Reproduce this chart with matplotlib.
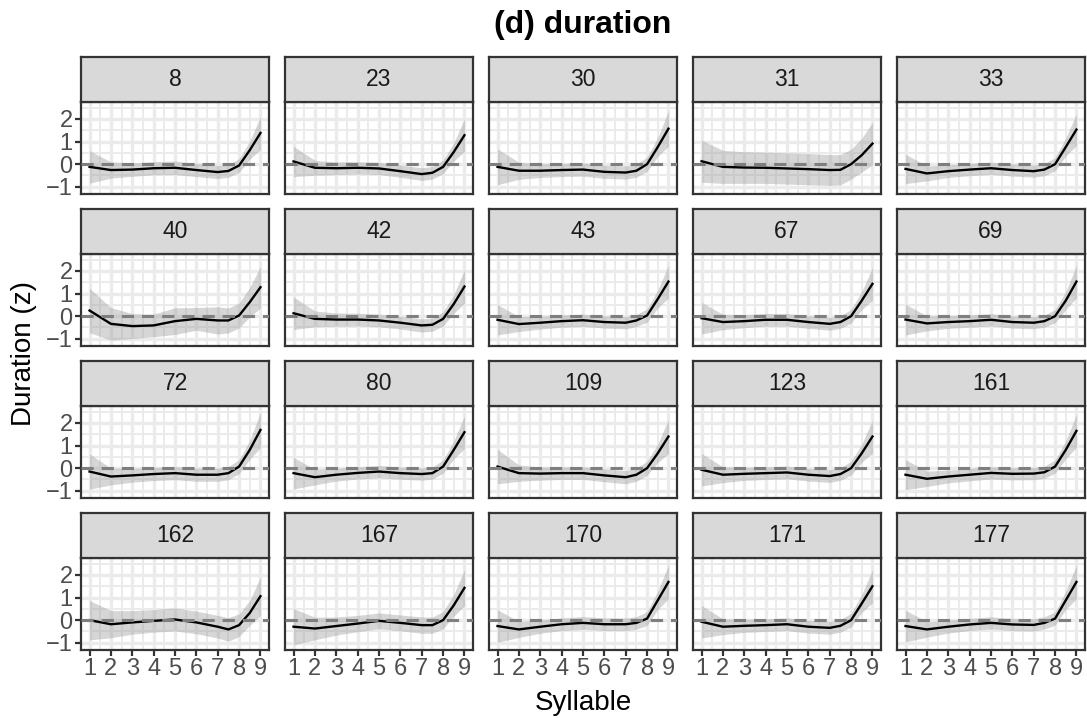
import numpy as np
import matplotlib
matplotlib.use("Agg")
import matplotlib.pyplot as plt

plt.rcParams['font.family'] = ['Liberation Sans', 'DejaVu Sans']

# ---------------- data ----------------
syllable = [1, 2, 3, 4, 5, 6, 7, 7.5, 8, 8.5, 9]
speakers = ["8", "23", "30", "31", "33",
            "40", "42", "43", "67", "69",
            "72", "80", "109", "123", "161",
            "162", "167", "170", "171", "177"]

dur_8 = [-0.12, -0.26, -0.24, -0.18, -0.16, -0.26, -0.35, -0.30, -0.06, 0.62, 1.38]
dur_23 = [0.12, -0.16, -0.18, -0.16, -0.19, -0.31, -0.44, -0.38, -0.12, 0.54, 1.28]
dur_30 = [-0.12, -0.29, -0.29, -0.26, -0.24, -0.34, -0.37, -0.29, 0.00, 0.76, 1.57]
dur_31 = [0.13, -0.12, -0.15, -0.16, -0.19, -0.22, -0.26, -0.25, 0.00, 0.40, 0.91]
dur_33 = [-0.21, -0.41, -0.31, -0.24, -0.18, -0.26, -0.31, -0.24, 0.00, 0.76, 1.53]
dur_40 = [0.25, -0.34, -0.44, -0.41, -0.22, -0.12, -0.19, -0.19, 0.03, 0.62, 1.28]
dur_42 = [0.13, -0.12, -0.15, -0.15, -0.19, -0.29, -0.41, -0.38, -0.12, 0.54, 1.31]
dur_43 = [-0.16, -0.35, -0.29, -0.22, -0.18, -0.26, -0.29, -0.19, 0.03, 0.76, 1.53]
dur_67 = [-0.09, -0.26, -0.22, -0.16, -0.16, -0.26, -0.34, -0.26, 0.00, 0.69, 1.43]
dur_69 = [-0.15, -0.32, -0.26, -0.22, -0.16, -0.26, -0.29, -0.22, 0.00, 0.69, 1.53]
dur_72 = [-0.15, -0.37, -0.32, -0.26, -0.22, -0.29, -0.29, -0.22, 0.07, 0.81, 1.69]
dur_80 = [-0.22, -0.40, -0.29, -0.21, -0.15, -0.22, -0.26, -0.22, 0.07, 0.81, 1.59]
dur_109 = [0.07, -0.22, -0.24, -0.22, -0.22, -0.32, -0.40, -0.29, 0.00, 0.66, 1.40]
dur_123 = [-0.07, -0.29, -0.25, -0.22, -0.19, -0.29, -0.35, -0.26, 0.00, 0.66, 1.40]
dur_161 = [-0.29, -0.47, -0.37, -0.29, -0.21, -0.25, -0.24, -0.18, 0.07, 0.81, 1.65]
dur_162 = [0.00, -0.18, -0.10, -0.03, 0.03, -0.10, -0.29, -0.41, -0.22, 0.32, 1.06]
dur_167 = [-0.29, -0.37, -0.26, -0.15, -0.03, -0.12, -0.22, -0.22, 0.00, 0.66, 1.43]
dur_170 = [-0.26, -0.41, -0.29, -0.18, -0.12, -0.18, -0.18, -0.12, 0.07, 0.88, 1.69]
dur_171 = [-0.07, -0.29, -0.25, -0.22, -0.18, -0.29, -0.34, -0.25, 0.00, 0.74, 1.50]
dur_177 = [-0.26, -0.41, -0.29, -0.19, -0.12, -0.19, -0.21, -0.12, 0.07, 0.88, 1.69]

se_8 = [0.72, 0.36, 0.30, 0.29, 0.30, 0.29, 0.29, 0.28, 0.30, 0.40, 0.73]
se_23 = [0.67, 0.33, 0.28, 0.27, 0.27, 0.27, 0.28, 0.28, 0.30, 0.40, 0.72]
se_30 = [0.79, 0.38, 0.30, 0.29, 0.29, 0.29, 0.29, 0.29, 0.31, 0.42, 0.78]
se_31 = [0.93, 0.73, 0.70, 0.69, 0.69, 0.69, 0.68, 0.67, 0.66, 0.75, 0.94]
se_33 = [0.65, 0.33, 0.28, 0.27, 0.27, 0.27, 0.27, 0.27, 0.29, 0.40, 0.70]
se_40 = [0.98, 0.72, 0.55, 0.50, 0.59, 0.50, 0.60, 0.55, 0.55, 0.65, 0.92]
se_42 = [0.72, 0.35, 0.29, 0.28, 0.28, 0.28, 0.29, 0.29, 0.31, 0.41, 0.74]
se_43 = [0.67, 0.33, 0.28, 0.27, 0.27, 0.27, 0.27, 0.27, 0.29, 0.40, 0.72]
se_67 = [0.70, 0.34, 0.29, 0.28, 0.28, 0.28, 0.28, 0.28, 0.30, 0.40, 0.72]
se_69 = [0.68, 0.33, 0.28, 0.27, 0.27, 0.27, 0.27, 0.27, 0.29, 0.40, 0.72]
se_72 = [0.78, 0.37, 0.30, 0.29, 0.29, 0.29, 0.29, 0.29, 0.31, 0.42, 0.78]
se_80 = [0.70, 0.34, 0.28, 0.27, 0.27, 0.27, 0.27, 0.27, 0.29, 0.40, 0.72]
se_109 = [0.76, 0.36, 0.29, 0.28, 0.28, 0.28, 0.29, 0.29, 0.31, 0.41, 0.75]
se_123 = [0.72, 0.35, 0.29, 0.28, 0.28, 0.28, 0.28, 0.28, 0.30, 0.40, 0.73]
se_161 = [0.66, 0.34, 0.28, 0.27, 0.27, 0.27, 0.27, 0.27, 0.29, 0.40, 0.72]
se_162 = [0.87, 0.60, 0.52, 0.50, 0.51, 0.50, 0.50, 0.52, 0.50, 0.55, 0.85]
se_167 = [0.80, 0.50, 0.40, 0.36, 0.35, 0.35, 0.36, 0.36, 0.38, 0.48, 0.80]
se_170 = [0.72, 0.35, 0.29, 0.28, 0.28, 0.28, 0.28, 0.28, 0.30, 0.41, 0.74]
se_171 = [0.72, 0.35, 0.29, 0.28, 0.28, 0.28, 0.28, 0.28, 0.30, 0.40, 0.73]
se_177 = [0.70, 0.34, 0.28, 0.27, 0.27, 0.27, 0.27, 0.27, 0.29, 0.41, 0.74]

means = [dur_8, dur_23, dur_30, dur_31, dur_33, dur_40, dur_42, dur_43, dur_67, dur_69,
         dur_72, dur_80, dur_109, dur_123, dur_161, dur_162, dur_167, dur_170, dur_171, dur_177]
ses = [se_8, se_23, se_30, se_31, se_33, se_40, se_42, se_43, se_67, se_69,
       se_72, se_80, se_109, se_123, se_161, se_162, se_167, se_170, se_171, se_177]

x_ticks = [1, 2, 3, 4, 5, 6, 7, 8, 9]
y_ticks = [-1, 0, 1, 2]
y_tick_labels = ["\u22121", "0", "1", "2"]

# ---------------- layout ----------------
W, H = 1087, 718
fig = plt.figure(figsize=(W / 100, H / 100), dpi=100)

col_left = [81, 285, 489, 693, 897]
panel_w = 188
strip_top0 = 57
strip_h = 45
panel_h = 92
row_pitch = 152

def fx(px):
    return px / W

def fy(top, h):
    return 1 - (top + h) / H

border_col = "#333333"
grid_col = "#EBEBEB"

for i, (spk, m, s) in enumerate(zip(speakers, means, ses)):
    r, c = divmod(i, 5)
    left = col_left[c]
    stop = strip_top0 + r * row_pitch
    ptop = stop + strip_h
    ax = fig.add_axes([fx(left), fy(ptop, panel_h), panel_w / W, panel_h / H])
    # grid
    for gx in x_ticks:
        ax.axvline(gx, color=grid_col, lw=2.4, zorder=0)
    for gx in np.arange(1.5, 9, 1.0):
        ax.axvline(gx, color=grid_col, lw=1.4, zorder=0)
    for gy in y_ticks:
        ax.axhline(gy, color=grid_col, lw=2.4, zorder=0)
    for gy in [-0.5, 0.5, 1.5, 2.5]:
        ax.axhline(gy, color=grid_col, lw=1.4, zorder=0)
    m = np.asarray(m)
    s = np.asarray(s)
    ax.fill_between(syllable, m - s, m + s, color="#999999", alpha=0.4, lw=0, zorder=1)
    ax.plot(syllable, m, color="black", lw=1.7, zorder=2, solid_joinstyle="round")
    ax.axhline(0, color="#7F7F7F", lw=2.2, ls=(0, (4.0, 2.6)), zorder=3)
    ax.set_xlim(0.6, 9.4)
    ax.set_ylim(-1.32, 2.75)
    ax.set_xticks(x_ticks)
    ax.set_yticks(y_ticks)
    for sp in ax.spines.values():
        sp.set_color(border_col)
        sp.set_linewidth(1.6)
    ax.tick_params(axis="both", colors=border_col, width=1.6, length=4.5,
                   labelsize=17, labelcolor="#4D4D4D", pad=1.5)
    if c == 0:
        ax.set_yticklabels(y_tick_labels)
    else:
        ax.tick_params(axis="y", length=0, labelleft=False)
    if r == 3:
        ax.set_xticklabels([str(v) for v in x_ticks])
    else:
        ax.tick_params(axis="x", length=0, labelbottom=False)
    ax.set_facecolor("white")

    # strip
    sax = fig.add_axes([fx(left), fy(stop, strip_h), panel_w / W, strip_h / H])
    sax.set_facecolor("#D9D9D9")
    sax.set_xticks([])
    sax.set_yticks([])
    for sp in sax.spines.values():
        sp.set_color(border_col)
        sp.set_linewidth(1.6)
    sax.text(0.5, 0.5, spk, transform=sax.transAxes, ha="center", va="center",
             fontsize=16.5, color="#1A1A1A")

fig.text(fx(583), 1 - 25 / H, "(d) duration", ha="center", va="center",
         fontsize=23, fontweight="bold", color="black")
fig.text(fx(583), 1 - 703 / H, "Syllable", ha="center", va="center",
         fontsize=20, color="black")
fig.text(fx(24), 1 - 353 / H, "Duration (z)", ha="center", va="center",
         rotation=90, fontsize=20, color="black")

fig.savefig("out.png", dpi=100, facecolor="white")
